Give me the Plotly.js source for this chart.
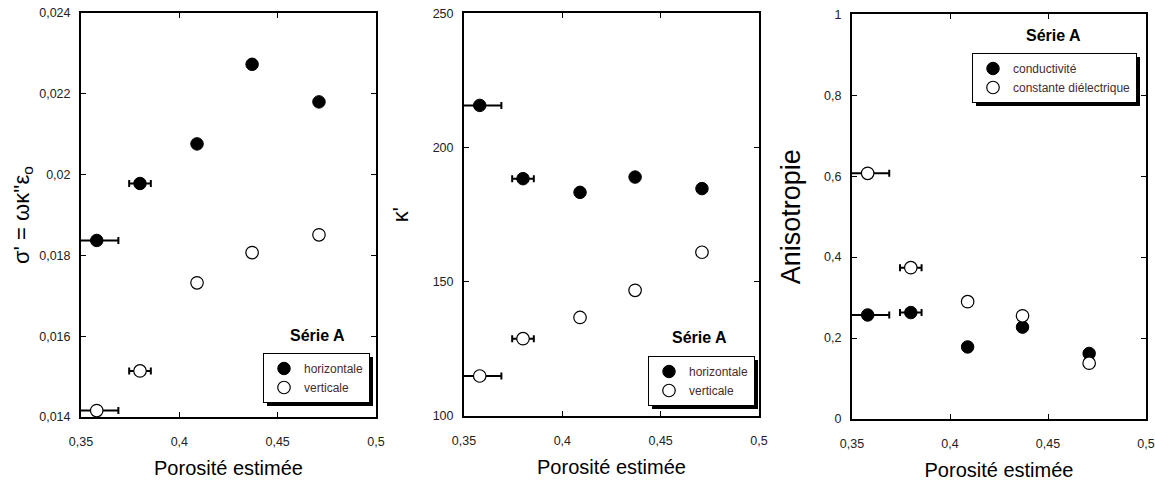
<!DOCTYPE html>
<html>
<head>
<meta charset="utf-8">
<script src="https://cdn.plot.ly/plotly-3.0.1.min.js"></script>
<style>
html,body{margin:0;padding:0;background:#fff;}
#chart{width:1155px;height:488px;}
</style>
</head>
<body>
<div id="chart"></div>
<script>
// ---- data ----
const porosite = [0.358, 0.380, 0.409, 0.437, 0.471];
const errPorosite = [0.011, 0.0055, 0, 0, 0];
const sigmaHorizontale = [0.01837, 0.01978, 0.02076, 0.02273, 0.0218];
const sigmaVerticale = [0.01416, 0.01514, 0.01732, 0.01807, 0.01851];
const kappaHorizontale = [215.7, 188.4, 183.3, 189.0, 184.7];
const kappaVerticale = [114.9, 128.8, 136.7, 146.8, 161.0];
const anisoConductivite = [0.257, 0.263, 0.178, 0.227, 0.162];
const anisoDielectrique = [0.607, 0.374, 0.290, 0.255, 0.138];
const legendNamesHV = ['horizontale', 'verticale'];
const legendNamesAniso = ['conductivité', 'constante diélectrique'];
const xTitle = 'Porosité estimée';
const yTitles = ["σ' = ωκ''ε<sub>o</sub>", "κ'", 'Anisotropie'];
const serieLabel = 'Série A';

const W = 1155, H = 488;
const px = v => v / W;
const py = v => 1 - v / H;

const SANS = '"Liberation Sans", Arial, sans-serif';

function errX() {
  return {type: 'data', array: errPorosite, visible: true, color: '#000', thickness: 2, width: 3.5};
}
function filled(y, name, xa, ya, lg) {
  return {x: porosite, y: y, name: name, type: 'scatter', mode: 'markers', xaxis: xa, yaxis: ya, legend: lg,
    marker: {symbol: 'circle', size: 12.5, color: '#000', line: {color: '#000', width: 1}},
    error_x: errX()};
}
function open(y, name, xa, ya, lg) {
  return {x: porosite, y: y, name: name, type: 'scatter', mode: 'markers', xaxis: xa, yaxis: ya, legend: lg,
    marker: {symbol: 'circle', size: 12.5, color: '#fff', line: {color: '#000', width: 1.2}},
    error_x: errX()};
}

const data = [
  filled(sigmaHorizontale, legendNamesHV[0], 'x', 'y', 'legend'),
  open(sigmaVerticale, legendNamesHV[1], 'x', 'y', 'legend'),
  filled(kappaHorizontale, legendNamesHV[0], 'x2', 'y2', 'legend2'),
  open(kappaVerticale, legendNamesHV[1], 'x2', 'y2', 'legend2'),
  filled(anisoConductivite, legendNamesAniso[0], 'x3', 'y3', 'legend3'),
  open(anisoDielectrique, legendNamesAniso[1], 'x3', 'y3', 'legend3')
];

function xax(dom, anchor) {
  return {domain: dom, anchor: anchor, range: [0.35, 0.5], dtick: 0.05, tick0: 0.35,
    showline: true, linecolor: '#000', linewidth: 2, mirror: 'ticks',
    ticks: 'inside', ticklen: 5, tickwidth: 1, tickcolor: '#000',
    showgrid: false, zeroline: false, automargin: false,
    ticklabelstandoff: 12,
    tickfont: {family: SANS, size: 12.5, color: '#222'},
    title: {text: xTitle, font: {family: SANS, size: 20, color: '#000'}, standoff: 13}};
}
function yax(dom, anchor, range, dtick, title, tsize, standoff) {
  return {domain: dom, anchor: anchor, range: range, dtick: dtick, tick0: range[0],
    showline: true, linecolor: '#000', linewidth: 2, mirror: 'ticks',
    ticks: 'inside', ticklen: 5, tickwidth: 1, tickcolor: '#000',
    showgrid: false, zeroline: false, automargin: false,
    ticklabelstandoff: 6,
    tickfont: {family: SANS, size: 12.5, color: '#222'},
    title: {text: title, font: {family: SANS, size: tsize, color: '#000'}, standoff: standoff}};
}

function legendAt(xpx, ypx) {
  return {x: px(xpx), y: py(ypx), xanchor: 'left', yanchor: 'top',
    bgcolor: '#fff', bordercolor: '#000', borderwidth: 1,
    font: {family: SANS, size: 12, color: '#4a2a2a'},
    itemclick: false, tracegroupgap: 0};
}

const legendPos = [[263, 353], [648, 356], [972, 53]];
const legendIds = ['legend', 'legend2', 'legend3'];

const serieAnn = [[317, 335], [699, 337], [1053, 36]].map(p => ({
  xref: 'paper', yref: 'paper', x: px(p[0]), y: py(p[1]), xanchor: 'center', yanchor: 'middle',
  text: '<b>' + serieLabel + '</b>', showarrow: false,
  font: {family: SANS, size: 16, color: '#000'}}));

const layout = {
  width: W, height: H,
  margin: {l: 0, r: 0, t: 0, b: 0},
  paper_bgcolor: '#fff', plot_bgcolor: '#fff',
  separators: ', ',
  showlegend: true,
  xaxis: xax([px(81), px(376)], 'y'),
  yaxis: yax([1 - 417 / H, 1 - 13 / H], 'x', [0.014, 0.024], 0.002, yTitles[0], 22, 4),
  xaxis2: xax([px(464), px(759)], 'y2'),
  yaxis2: yax([1 - 416 / H, 1 - 13.3 / H], 'x2', [100, 250], 50, yTitles[1], 22, 18),
  xaxis3: xax([px(852), px(1146)], 'y3'),
  yaxis3: yax([1 - 419 / H, 1 - 14.3 / H], 'x3', [0, 1], 0.2, yTitles[2], 27, 16),
  legend: legendAt(legendPos[0][0], legendPos[0][1]),
  legend2: legendAt(legendPos[1][0], legendPos[1][1]),
  legend3: legendAt(legendPos[2][0], legendPos[2][1]),
  shapes: [],
  annotations: serieAnn
};

Plotly.newPlot('chart', data, layout, {displayModeBar: false, staticPlot: true}).then(gd => {
  // drop shadow behind each legend box, sized from the rendered legend
  const root = gd.getBoundingClientRect();
  const shapes = [];
  legendIds.forEach(id => {
    const bg = gd.querySelector('.infolayer .' + id + ' rect.bg');
    if (!bg) return;
    const r = bg.getBoundingClientRect();
    const l = r.left - root.left, t = r.top - root.top;
    shapes.push({type: 'rect', xref: 'paper', yref: 'paper', layer: 'below',
      x0: px(l + 3.5), x1: px(l + r.width + 3.5), y0: py(t + r.height + 3.5), y1: py(t + 3.5),
      fillcolor: '#000', line: {width: 0}});
  });
  return Plotly.relayout(gd, {shapes: shapes});
});
</script>
</body>
</html>
